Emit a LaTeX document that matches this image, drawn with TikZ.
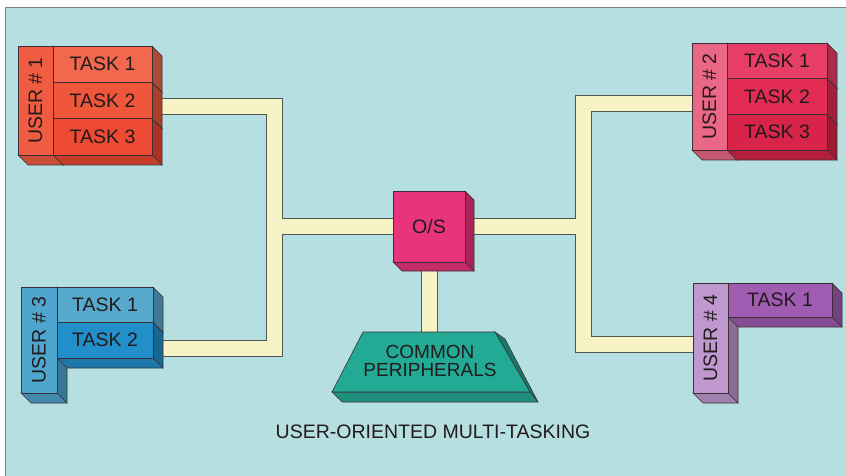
\documentclass[tikz,border=0pt]{standalone}
\usepackage{fontspec}
\setmainfont{Liberation Sans}
\usetikzlibrary{positioning}

\definecolor{sea}{RGB}{182,223,226}
\definecolor{cream}{RGB}{248,243,198}
\definecolor{wirerim}{RGB}{78,88,80}
\definecolor{edge}{RGB}{60,48,54}
\definecolor{ink}{RGB}{34,26,28}
\definecolor{redA}{RGB}{242,104,78}
\definecolor{redB}{RGB}{240,86,58}
\definecolor{redC}{RGB}{236,74,50}
\definecolor{redL}{RGB}{240,92,66}
\definecolor{pinkA}{RGB}{230,62,102}
\definecolor{pinkB}{RGB}{226,44,84}
\definecolor{pinkC}{RGB}{216,36,72}
\definecolor{pinkL}{RGB}{234,104,134}
\definecolor{blueA}{RGB}{88,170,204}
\definecolor{blueB}{RGB}{34,142,202}
\definecolor{blueL}{RGB}{78,166,206}
\definecolor{violetA}{RGB}{160,92,176}
\definecolor{violetL}{RGB}{190,152,206}
\definecolor{osred}{RGB}{232,52,122}
\definecolor{teal}{RGB}{34,170,148}

\pgfdeclarelayer{back}
\pgfdeclarelayer{wires}
\pgfdeclarelayer{sides}
\pgfsetlayers{back,wires,sides,main}

\tikzset{
  face/.style={draw=edge, line width=0.6pt, inner sep=0pt, outer sep=0pt},
  usercol/.style={face, anchor=north west},
  usertag/.style={rotate=90, text=ink, font=\fontsize{19.5}{21}\selectfont},
  task/.style={face, text=ink, font=\fontsize{19.5}{21}\selectfont},
  wireout/.style={draw=wirerim, line width=17pt},
  wirein/.style={draw=cream, line width=15pt},
}

\newcommand{\extrudebox}[3]{%
  \filldraw[fill=#2!72!black, draw=edge, line width=0.6pt] (#1.north east) -- ++(#3,#3)
    -- ([shift={(#3,#3)}]#1.south east) -- (#1.south east) -- cycle;
  \filldraw[fill=#2!84!black, draw=edge, line width=0.6pt] (#1.south west) -- (#1.south east)
    -- ([shift={(#3,#3)}]#1.south east) -- ([shift={(#3,#3)}]#1.south west) -- cycle;}

\begin{document}
\begin{tikzpicture}[x=1pt, y=-1pt]
\useasboundingbox (0,0) rectangle (846,476);

\begin{pgfonlayer}{back}
  \fill[sea] (5,7) rectangle (846,476);
  \draw[gray, line width=0.8pt] (5,476) -- (5,7) -- (846,7);
\end{pgfonlayer}

\node[usercol, fill=redL, minimum width=35pt, minimum height=109pt] (u1) at (18,46) {};
\node[usertag] (u1tag) at (u1.center) {USER \# 1};
\node[task, fill=redA, minimum width=99pt, minimum height=36.33pt, anchor=north west] (u1t1) at (u1.north east) {TASK 1};
\node[task, fill=redB, minimum width=99pt, minimum height=36.33pt, below=0pt of u1t1] (u1t2) {TASK 2};
\node[task, fill=redC, minimum width=99pt, minimum height=36.33pt, below=0pt of u1t2] (u1t3) {TASK 3};

\node[usercol, fill=pinkL, minimum width=35pt, minimum height=107pt] (u2) at (692,43) {};
\node[usertag] (u2tag) at (u2.center) {USER \# 2};
\node[task, fill=pinkA, minimum width=100pt, minimum height=35.67pt, anchor=north west] (u2t1) at (u2.north east) {TASK 1};
\node[task, fill=pinkB, minimum width=100pt, minimum height=35.67pt, below=0pt of u2t1] (u2t2) {TASK 2};
\node[task, fill=pinkC, minimum width=100pt, minimum height=35.67pt, below=0pt of u2t2] (u2t3) {TASK 3};

\node[usercol, fill=blueL, minimum width=36pt, minimum height=106pt] (u3) at (21,287) {};
\node[usertag] (u3tag) at (u3.center) {USER \# 3};
\node[task, fill=blueA, minimum width=96pt, minimum height=35.5pt, anchor=north west] (u3t1) at (u3.north east) {TASK 1};
\node[task, fill=blueB, minimum width=96pt, minimum height=35.5pt, below=0pt of u3t1] (u3t2) {TASK 2};

\node[usercol, fill=violetL, minimum width=35pt, minimum height=110pt] (u4) at (693,283) {};
\node[usertag] (u4tag) at (u4.center) {USER \# 4};
\node[task, fill=violetA, minimum width=104pt, minimum height=34pt, anchor=north west] (u4t1) at (u4.north east) {TASK 1};

\node[task, fill=osred, minimum width=72pt, minimum height=71pt, anchor=north west] (os) at (393,191) {O/S};

\filldraw[fill=teal, draw=edge, line width=0.6pt] (363,332) -- (495,332) -- (530,392) -- (332,392) -- cycle;
\node[text=ink, align=center, font=\fontsize{19}{18.5}\selectfont] (perip) at (430,361) {COMMON\\PERIPHERALS};
\coordinate (peripTop) at (os.south |- 0,332);

\node[text=ink, font=\fontsize{19.5}{21}\selectfont] (caption) at (433,432) {USER-ORIENTED MULTI-TASKING};

\begin{pgfonlayer}{sides}
  \extrudebox{u1}{redL}{10}
  \extrudebox{u1t1}{redA}{10}
  \extrudebox{u1t2}{redB}{10}
  \extrudebox{u1t3}{redC}{10}
  \extrudebox{u2}{pinkL}{10}
  \extrudebox{u2t1}{pinkA}{10}
  \extrudebox{u2t2}{pinkB}{10}
  \extrudebox{u2t3}{pinkC}{10}
  \extrudebox{u3}{blueL}{10}
  \extrudebox{u3t1}{blueA}{10}
  \extrudebox{u3t2}{blueB}{10}
  \extrudebox{u4}{violetL}{10}
  \extrudebox{u4t1}{violetA}{10}
  \extrudebox{os}{osred}{9}
  \filldraw[fill=teal!72!black, draw=edge, line width=0.6pt] (495,332) -- (505,339) -- (538,402) -- (530,392) -- cycle;
  \filldraw[fill=teal!84!black, draw=edge, line width=0.6pt] (332,392) -- (530,392) -- (538,402) -- (342,402) -- cycle;
\end{pgfonlayer}

\coordinate (jl1) at (274.5,106.5);
\coordinate (jl2) at (274.5,348);
\coordinate (jl3) at (274.5,226.5);
\coordinate (jr1) at (583.5,104);
\coordinate (jr2) at (583.5,344);
\coordinate (jr3) at (583.5,226.5);

\begin{pgfonlayer}{wires}
  \foreach \w in {wireout,wirein}{
    \draw[\w] (u1t2.east |- jl1) -- (jl1) -- (jl2) -- (u3t2.east |- jl2);
    \draw[\w] (jl3) -- (os.west);
    \draw[\w] (u2.west |- jr1) -- (jr1) -- (jr2) -- (u4.west |- jr2);
    \draw[\w] (os.east) -- (jr3);
    \draw[\w] (os.south) -- (peripTop);
  }
\end{pgfonlayer}
\end{tikzpicture}
\end{document}
